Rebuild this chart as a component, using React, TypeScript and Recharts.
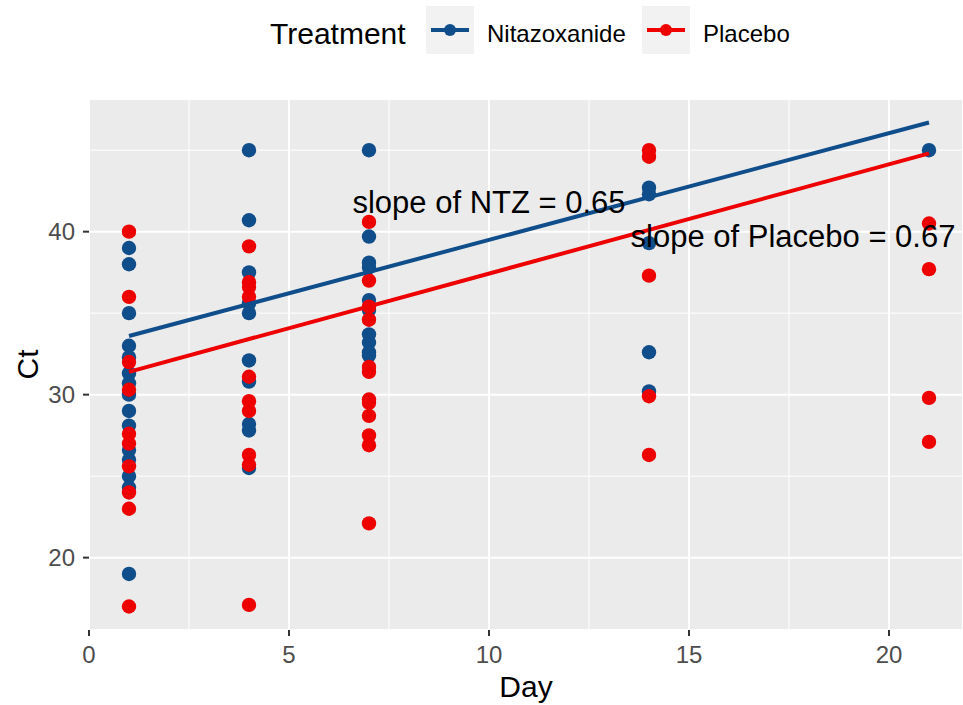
import {
  CartesianGrid,
  ReferenceDot,
  ReferenceLine,
  Scatter,
  ScatterChart,
  XAxis,
  YAxis,
} from "recharts";

const NTZ_BLUE = "#104E8B";
const PLACEBO_RED = "#EE0000";
const FONT = "'Liberation Sans', Arial, sans-serif";

const DAYS = [1, 4, 7, 14, 21];

// Ct per day, one inner list per entry of DAYS
const NTZ_CT = [
  [39, 38, 35, 33, 32.3, 31.3, 30.7, 30, 29, 28.1, 26.6, 26, 25, 24.3, 19],
  [45, 40.7, 37.5, 35.6, 35, 32.1, 30.8, 28.2, 27.8, 25.5],
  [45, 39.7, 38.1, 37.8, 35.8, 35.2, 33.7, 33.2, 32.6, 32.4],
  [42.7, 42.3, 39.3, 32.6, 30.2],
  [45],
];
const PLACEBO_CT = [
  [40, 36, 32, 30.3, 27.6, 27, 25.6, 24, 23, 17],
  [39.1, 36.9, 36.6, 36, 31.1, 29.6, 29, 26.3, 25.7, 17.1],
  [40.6, 37, 35.4, 34.6, 31.7, 31.4, 29.7, 29.5, 28.7, 27.5, 26.9, 22.1],
  [45, 44.6, 37.3, 29.9, 26.3],
  [40.5, 37.7, 29.8, 27.1],
];

// fitted lm lines, ends at day 1 and day 21
const FIT_DAYS = [1, 21];
const NTZ_FIT = [33.6, 46.7];
const PLACEBO_FIT = [31.4, 44.8];

const X_TICKS = [0, 5, 10, 15, 20];
const X_MINOR = [2.5, 7.5, 12.5, 17.5];
const Y_TICKS = [20, 30, 40];
const Y_MINOR = [25, 35, 45];

const toPoints = (groups: number[][]) =>
  groups.flatMap((vals, i) => vals.map((ct) => ({ day: DAYS[i], ct })));
const toFit = (vals: number[]) => FIT_DAYS.map((day, i) => ({ day, ct: vals[i] }));

const dot = (color: string) => (p: any) => <circle cx={p.cx} cy={p.cy} r={7.2} fill={color} />;

function LegendBar() {
  return (
    <svg width={963} height={80} style={{ position: "absolute", left: 0, top: 0 }}>
      <text x={270} y={44} fontSize={30} fontFamily={FONT} fill="#000">
        Treatment
      </text>
      <rect x={426} y={6} width={48} height={48} fill="#f2f2f2" />
      <line x1={431} x2={469} y1={30} y2={30} stroke={NTZ_BLUE} strokeWidth={4} />
      <circle cx={450} cy={30} r={6} fill={NTZ_BLUE} />
      <text x={487} y={42} fontSize={24} fontFamily={FONT} fill="#000">
        Nitazoxanide
      </text>
      <rect x={642} y={6} width={48} height={48} fill="#f2f2f2" />
      <line x1={647} x2={685} y1={30} y2={30} stroke={PLACEBO_RED} strokeWidth={4} />
      <circle cx={666} cy={30} r={6} fill={PLACEBO_RED} />
      <text x={703} y={42} fontSize={24} fontFamily={FONT} fill="#000">
        Placebo
      </text>
    </svg>
  );
}

export default function App() {
  const tick = { fontSize: 24, fill: "#4d4d4d", fontFamily: FONT };
  return (
    <div style={{ position: "absolute", left: 0, top: 0, width: 963, height: 705, background: "#fff" }}>
      <ScatterChart width={963} height={705} margin={{ top: 99, right: 0, bottom: 0, left: 0 }}>
        <CartesianGrid fill="#ebebeb" fillOpacity={1} stroke="#fff" strokeWidth={2} />
        {X_MINOR.map((v) => (
          <ReferenceLine key={`x${v}`} x={v} stroke="#fff" strokeWidth={1} />
        ))}
        {Y_MINOR.map((v) => (
          <ReferenceLine key={`y${v}`} y={v} stroke="#fff" strokeWidth={1} />
        ))}
        <XAxis
          type="number"
          dataKey="day"
          domain={[0, 21.85]}
          ticks={X_TICKS}
          allowDataOverflow
          axisLine={false}
          tickLine={{ stroke: "#333", strokeWidth: 2 }}
          tickSize={6}
          tickMargin={10}
          height={75}
          tick={tick}
          label={{ value: "Day", position: "insideBottom", offset: 8, fontSize: 30, fill: "#000", fontFamily: FONT }}
        />
        <YAxis
          type="number"
          dataKey="ct"
          domain={[15.56, 48.14]}
          ticks={Y_TICKS}
          allowDataOverflow
          axisLine={false}
          tickLine={{ stroke: "#333", strokeWidth: 2 }}
          tickSize={6}
          tickMargin={8}
          width={89}
          tick={tick}
          label={{
            value: "Ct",
            angle: -90,
            position: "insideLeft",
            offset: 27,
            fontSize: 30,
            fill: "#000",
            fontFamily: FONT,
            style: { textAnchor: "middle" },
          }}
        />
        <Scatter data={toPoints(NTZ_CT)} shape={dot(NTZ_BLUE)} isAnimationActive={false} />
        <Scatter data={toPoints(PLACEBO_CT)} shape={dot(PLACEBO_RED)} isAnimationActive={false} />
        <Scatter
          data={toFit(NTZ_FIT)}
          line={{ stroke: NTZ_BLUE, strokeWidth: 4 }}
          shape={() => <g />}
          isAnimationActive={false}
        />
        <Scatter
          data={toFit(PLACEBO_FIT)}
          line={{ stroke: PLACEBO_RED, strokeWidth: 4 }}
          shape={() => <g />}
          isAnimationActive={false}
        />
        <ReferenceDot
          x={10}
          y={41.84}
          r={0}
          label={{ value: "slope of NTZ = 0.65", position: "center", fontSize: 31, fill: "#000", fontFamily: FONT }}
        />
        <ReferenceDot
          x={17.6}
          y={39.75}
          r={0}
          label={{ value: "slope of Placebo = 0.67", position: "center", fontSize: 31, fill: "#000", fontFamily: FONT }}
        />
      </ScatterChart>
      <LegendBar />
    </div>
  );
}
